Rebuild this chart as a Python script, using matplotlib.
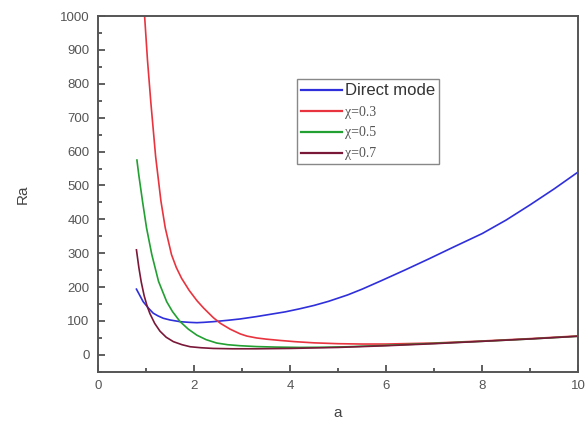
import matplotlib
matplotlib.use("Agg")
import matplotlib.pyplot as plt
from matplotlib.ticker import MultipleLocator

# ── Data ─────────────────────────────────────────────────────────────────────
a_direct = [0.8, 0.94, 1.05, 1.15, 1.25, 1.36, 1.5, 1.71, 1.9, 2.06, 2.2, 2.4,
            2.7, 2.96, 3.3, 3.6, 3.9, 4.2, 4.5, 4.8, 5.2, 5.5, 5.9, 6.4, 6.9,
            7.4, 8.0, 8.5, 9.0, 9.5, 10.0]
ra_direct = [194, 157, 138, 123, 115, 108, 103, 98, 96, 95, 96, 98,
             102, 106, 113, 120, 127, 136, 146, 158, 177, 194, 219, 251, 284,
             318, 358, 398, 443, 490, 540]

a_03 = [0.8, 0.9, 0.97, 1.03, 1.1, 1.2, 1.31, 1.4, 1.53, 1.63, 1.74, 1.9,
        2.06, 2.2, 2.4, 2.55, 2.75, 2.96, 3.1, 3.3, 3.5, 3.8, 4.1, 4.5, 5.0,
        5.5, 6.0, 7.0, 8.0, 9.0, 10.0]
ra_03 = [2300, 1350, 1000, 870, 745, 585, 454, 375, 296, 258, 226, 190,
         160, 138, 110, 93, 76, 62, 55.5, 50, 46.5, 42.5, 39, 35.5, 33,
         32, 32, 35, 41, 48, 56]

a_05 = [0.81, 0.85, 0.93, 1.01, 1.12, 1.26, 1.43, 1.55, 1.71, 1.88, 2.06,
        2.25, 2.47, 2.7, 2.96, 3.3, 3.7, 4.2, 4.7, 5.2, 6.0, 7.0, 8.0, 9.0,
        10.0]
ra_05 = [575, 530, 450, 375, 296, 217, 157, 128, 98, 76, 58,
         45, 35, 30, 27, 24.5, 23, 22, 22.5, 24, 28, 34, 40, 47,
         55]

a_07 = [0.8, 0.85, 0.9, 0.96, 1.02, 1.08, 1.18, 1.29, 1.42, 1.57, 1.75, 1.92,
        2.15, 2.4, 2.8, 3.3, 4.0, 5.0, 6.0, 7.0, 8.0, 9.0, 10.0]
ra_07 = [310, 258, 215, 175, 145, 122, 93, 70, 52, 39, 30, 24,
         21, 19, 18, 18, 19, 22, 27, 33, 40, 47, 55]

labels = ["Direct mode", "χ=0.3", "χ=0.5", "χ=0.7"]
colors = ["#2f2fdb", "#e8343f", "#22a032", "#7a1838"]

# ── Figure ───────────────────────────────────────────────────────────────────
fig = plt.figure(figsize=(5.87, 4.23), dpi=100)
ax = fig.add_axes([0.167, 0.121, 0.818, 0.841])

series = [(a_direct, ra_direct), (a_03, ra_03), (a_05, ra_05), (a_07, ra_07)]
for (xs, ys), lab, col in zip(series, labels, colors):
    ax.plot(xs, ys, color=col, linewidth=1.2, label=lab,
            solid_joinstyle="round")

ax.set_xlim(0, 10)
ax.set_ylim(-50, 1000)
ax.xaxis.set_major_locator(MultipleLocator(2))
ax.xaxis.set_minor_locator(MultipleLocator(1))
ax.yaxis.set_major_locator(MultipleLocator(100))
ax.yaxis.set_minor_locator(MultipleLocator(50))
ax.set_yticks(range(0, 1001, 100))

ax.tick_params(which="both", direction="in", top=False, right=False,
               color="#444", width=1.2, labelcolor="#555",
               labelsize=9.5, pad=6)
ax.tick_params(which="major", length=5)
ax.tick_params(which="minor", length=3)
for lbl in ax.get_xticklabels() + ax.get_yticklabels():
    lbl.set_family("Liberation Sans")
for sp in ax.spines.values():
    sp.set_color("#555")
    sp.set_linewidth(1.4)

ax.set_xlabel("a", fontsize=11, color="#444", family="Liberation Sans",
              labelpad=10)
ax.set_ylabel("Ra", fontsize=11, color="#444", family="Liberation Sans",
              labelpad=22)

# ── Legend ───────────────────────────────────────────────────────────────────
leg = ax.legend(loc="upper left", bbox_to_anchor=(0.415, 0.823),
                borderaxespad=0, handlelength=3.3, handletextpad=0.25,
                borderpad=0.3, labelspacing=0.62, fancybox=False,
                framealpha=1, edgecolor="#888", fontsize=9)
leg.get_frame().set_linewidth(1.0)
for i, txt in enumerate(leg.get_texts()):
    if i == 0:
        txt.set_family("Liberation Sans")
        txt.set_fontsize(12)
        txt.set_color("#333")
    else:
        txt.set_family("Liberation Serif")
        txt.set_fontsize(10)
        txt.set_color("#555")
for ln in leg.get_lines():
    ln.set_linewidth(1.6)

fig.savefig("out.png", dpi=100)
